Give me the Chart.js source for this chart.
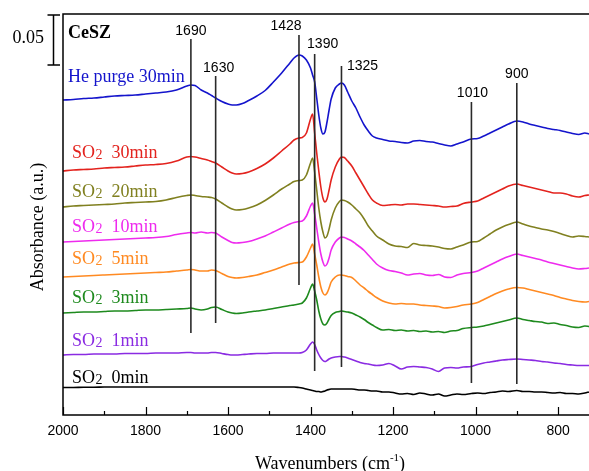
<!DOCTYPE html>
<html>
<head>
<meta charset="utf-8">
<script src="https://cdn.jsdelivr.net/npm/chart.js@4.4.1/dist/chart.umd.min.js"></script>
<style>
  html, body { margin: 0; padding: 0; background: #fff; }
  #wrap { width: 589px; height: 471px; }
</style>
</head>
<body>
<div id="wrap"><canvas id="c"></canvas></div>
<script>
// Wavenumber grid (cm-1), shared by all spectra
const wavenumbers = [2000,1975,1950,1925,1900,1875,1850,1825,1800,1775,
  1750,1725,1700,1690,1680,1665,1650,1640,1630,1615,
  1600,1590,1580,1565,1550,1530,1510,1490,1470,1450,
  1440,1428,1420,1410,1400,1395,1390,1385,1380,1375,
  1370,1365,1360,1355,1350,1340,1330,1325,1318,1310,
  1300,1290,1280,1270,1260,1250,1240,1225,1210,1195,
  1180,1165,1150,1135,1120,1105,1090,1075,1060,1045,
  1030,1010,995,980,965,950,935,920,900,885,
  870,855,840,825,810,795,780,765,750,735,725];

// Stacked absorbance, in units of 0.001 a.u.
const hePurge30 = [315,315.5,316.5,317,318,319,319.5,320,321,322,
  323,325,329,330,329.5,325,322,319.5,317,313.5,
  311,310,310,311.5,314.5,319,324.5,333,342,352,
  357,360,359,355,347,340,333,317,300,287,
  281,283,293,305,316,327,331,332,330,323,
  314,307,298,290,284,279,277,275.5,274,273.5,
  272.5,272,274,274.5,273.5,273,271.5,270,269,271,
  273,276,276.5,279,282,285,288,291,294,293,
  291,289.5,288,286.5,285.5,284.5,283,281.5,280.5,282,281];
const so2_30 = [244,245,245.5,246,247,247.5,248,249,250,250.5,
  251.5,254,258,258.5,258,256.5,255,253.5,252,248,
  244,242,241,241.5,243,246.5,251,257,264,271,
  275,277,277.5,282,296,301,282,262,244,228,
  217,213,216,225,235,248,256,258,257.5,254,
  249,242,235,228,221,215,212,209.5,210,210.5,
  210,211,211,210.5,210,209.5,209,208,208.5,209,
  211.5,213,214,217,220,223,226,229,231,229.5,
  228,226.5,225,223.5,222,222,221,219,218,219.5,220];
const so2_20 = [208,209,209.5,210,210.5,211,212,212.5,213,213.5,
  215,217.5,219.5,220,219.5,218.5,218,217.5,216,212,
  208,206,205,205.5,207,210,214.5,220,226,231,
  233.5,234.5,235,240,252,257,243,225,207,193,
  183,177,179,186,195,207,213.5,215,214.5,213,
  210,206,202,196,189,184,179,175,171,169,
  168.5,167.5,171.5,170,169.5,169,168,166.5,166,168,
  170,173,173.5,177,181,185,188,190.5,193,191,
  189,187.5,186,185,183.5,181.5,179.5,178,179,178.5,178];
const so2_10 = [173,173.5,174,174.5,175,175.5,176,176.5,177,177.5,
  178.5,180.5,182,182.5,182,183,182,182.5,182,178,
  174.5,172.5,172,172.5,173.5,176,179,183,187,191,
  192.5,193.5,194,199,209,212,201,187,173,161,
  153,149,151,157,165,173,177,178,177.5,176,
  174,171,168,164.5,160,155.5,151,147,144.5,143.5,
  142,140,141,141.5,140,139.5,140.5,138,137.5,140,
  141.5,142.5,144,147,150,153,156,158.5,161,159.5,
  158,156.5,155,153,151.5,150,148.5,147,146,146.5,147];
const so2_5 = [138,138.5,139,139.5,140,140.5,141,141.5,142,142.5,
  143,144,145,145.5,145,144,144,145,144.5,141.5,
  138.5,137.5,137,137.5,138.5,140,142.5,145,148,151,
  152,152.5,153,158,167,171,161,150,138,128,
  122,120,122,127,133,138,140,140,139.5,138.5,
  137.5,134,130,127,123.5,120.5,117.5,114,112,111,
  111.5,111,111,110,109.5,109,108.5,107,107.5,108.5,
  110,111,112.5,115.5,118.5,121.5,124,126,127.5,127,
  125.5,124,122.5,121,119.5,117.5,116,114.5,113.5,113,113.5];
const so2_3 = [102,102.5,103,103,103.5,104,104,104.5,105,105,
  105.5,106,106.5,107,106,105,106,107.5,108,105.5,
  103,102,101.5,102,103,104,105,106.5,108,109.5,
  110,111,112,117,127,131,124,115,104,96,
  91,90,92,96,99.5,102.5,103.5,104,103.5,103,
  102,100,98,95.5,92.5,90,87.5,85,85.5,84.5,
  85,84,84.5,83.5,84,83,83.5,82.5,84,84.5,
  86.5,87.5,88,89,90.5,92,93.5,95,97,95.5,
  94.5,93.5,93,91.5,92,90.5,89.5,88,87.5,89,88.5];
const so2_1 = [60,60.5,60.5,61,61,61,61.5,61.5,61.5,62,
  62,62,62.5,62.5,62,62,62,62.5,62.5,61.5,
  60.5,60,60,60.5,61,61.5,61.5,62,62,62,
  62,62,62.5,65,71,73,70.5,65,60.5,57,
  54.5,53.5,54.5,56,57,58,58.5,58.5,58,57,
  55.5,54,52.5,51.5,51,50,49.5,50,51.5,49,
  46,48,48.5,48,47.5,46,43.5,47,47.5,47,
  48,48.5,50.5,52,53,54,55,55.5,56,55.5,
  55,54.5,53.5,53,52,51.5,50.5,50,49.5,49.5,49.5];
const so2_0 = [27.5,27.5,27.8,27.8,28,28,28,28,28,28,
  28,28,28,28,28,28,28,28,28,28,
  28,28,28,28,28,28,28,28,28,28,
  28,27.5,27,26,25,24.5,24,23.5,23.5,23,
  23.5,24,25,25.5,26,26,26,26,26,26,
  26,25.5,25,25,24.5,24,24,23,23,22,
  21,21.5,20.5,22,21,20,21,19,20,21,
  20.5,21.5,22,21.5,22.5,23,24,23.5,24.5,23.5,
  23.5,23,23,22.5,22,22.5,21.5,21.5,21,22,23];

// Series names (SO2 is split so the 2 can be drawn smaller)
const seriesNames = ['He purge 30min', '30min', '20min', '10min', '5min', '3min', '1min', '0min'];
const seriesValues = [hePurge30, so2_30, so2_20, so2_10, so2_5, so2_3, so2_1, so2_0];
const seriesColors = ['#1414cc', '#e3231e', '#808020', '#ee2bee', '#ff8a22', '#1e8a1e', '#8a2be2', '#000000'];

// Band assignments (cm-1) and the extent of each marker line
const bandPositions = [1690, 1630, 1428, 1390, 1325, 1010, 900];
const bandTop = [376, 339, 380, 361, 349, 313, 332];
const bandBottom = [82, 92, 130, 44, 48, 32, 31];

const tickValues = [2000, 1800, 1600, 1400, 1200, 1000, 800];

// Label placement (pixel offsets) kept apart from the data
const bandLabelOffset = [[0, -8], [3, -8], [-13, -9], [8, -10], [21, 0], [1, -9], [0, -9]];
const seriesLabelAnchor = [339, 263, 224, 189, 157, 118, 75, 38];

const SERIF = '"Liberation Serif", "Times New Roman", serif';
const SANS = '"Liberation Sans", Arial, sans-serif';

const annotate = {
  id: 'annotate',
  afterDatasetsDraw(chart) {
    const { ctx, chartArea: a, scales: { x, y } } = chart;
    ctx.save();

    // frame: top, left, bottom
    ctx.strokeStyle = '#000';
    ctx.lineWidth = 1.5;
    ctx.beginPath();
    ctx.moveTo(a.right, a.top);
    ctx.lineTo(a.left, a.top);
    ctx.lineTo(a.left, a.bottom);
    ctx.lineTo(a.right, a.bottom);
    ctx.stroke();

    // inward tick marks, major every 200 and minor halfway
    ctx.lineWidth = 1.2;
    ctx.beginPath();
    tickValues.forEach(v => {
      const px = Math.round(x.getPixelForValue(v)) + 0.5;
      ctx.moveTo(px, a.bottom); ctx.lineTo(px, a.bottom - 8);
      const m = v - 100;
      if (m >= x.min) {
        const pm = Math.round(x.getPixelForValue(m)) + 0.5;
        ctx.moveTo(pm, a.bottom); ctx.lineTo(pm, a.bottom - 4);
      }
    });
    ctx.stroke();

    // band labels
    ctx.fillStyle = '#000';
    ctx.font = '14px ' + SANS;
    ctx.textAlign = 'center';
    ctx.textBaseline = 'middle';
    bandPositions.forEach((w, i) => {
      const px = x.getPixelForValue(w) + bandLabelOffset[i][0];
      const py = y.getPixelForValue(bandTop[i]) + bandLabelOffset[i][1];
      ctx.fillText(String(w), px, py);
    });

    // series labels
    ctx.textAlign = 'left';
    ctx.textBaseline = 'alphabetic';
    seriesNames.forEach((name, i) => {
      const cy = y.getPixelForValue(seriesLabelAnchor[i]);
      const base = cy + 6;
      ctx.fillStyle = seriesColors[i];
      if (i === 0) {
        ctx.font = '18px ' + SERIF;
        ctx.fillText(name, a.left + 5, base);
      } else {
        let px = a.left + 9;
        ctx.font = '18px ' + SERIF;
        ctx.fillText('SO', px, base);
        px += ctx.measureText('SO').width;
        ctx.font = '14px ' + SERIF;
        ctx.fillText('2', px + 0.5, base + 0.5);
        px += ctx.measureText('2').width + 0.5;
        ctx.font = '18px ' + SERIF;
        ctx.fillText('  ' + name, px, base);
      }
    });

    // sample name
    ctx.fillStyle = '#000';
    ctx.font = 'bold 18px ' + SERIF;
    ctx.fillText('CeSZ', a.left + 5, 38);

    // 0.05 a.u. scale bar
    const yTop = y.getPixelForValue(400), yBot = y.getPixelForValue(350);
    ctx.lineWidth = 1.5;
    ctx.beginPath();
    ctx.moveTo(53.5, yTop); ctx.lineTo(53.5, yBot);
    ctx.moveTo(47.5, yTop); ctx.lineTo(60, yTop);
    ctx.moveTo(47.5, yBot); ctx.lineTo(60, yBot);
    ctx.stroke();
    ctx.font = '18px ' + SERIF;
    ctx.textAlign = 'right';
    ctx.textBaseline = 'middle';
    ctx.fillText('0.05', 44, (yTop + yBot) / 2 - 2);

    // y axis title
    ctx.save();
    ctx.translate(38, 227);
    ctx.rotate(-Math.PI / 2);
    ctx.textAlign = 'center';
    ctx.fillText('Absorbance (a.u.)', 0, 0);
    ctx.restore();

    // x axis title with superscript
    ctx.textAlign = 'left';
    ctx.textBaseline = 'alphabetic';
    const t1 = 'Wavenumbers (cm', t2 = '-1', t3 = ')';
    ctx.font = '18px ' + SERIF;
    const w1 = ctx.measureText(t1).width, w3 = ctx.measureText(t3).width;
    ctx.font = '11px ' + SERIF;
    const w2 = ctx.measureText(t2).width;
    let tx = 330 - (w1 + w2 + w3) / 2;
    const tb = 469;
    ctx.font = '18px ' + SERIF;
    ctx.fillText(t1, tx, tb); tx += w1;
    ctx.font = '11px ' + SERIF;
    ctx.fillText(t2, tx, tb - 8); tx += w2;
    ctx.font = '18px ' + SERIF;
    ctx.fillText(t3, tx, tb);

    ctx.restore();
  }
};

const spectra = seriesValues.map((vals, i) => ({
  label: seriesNames[i],
  data: wavenumbers.map((w, k) => ({ x: w, y: vals[k] })),
  borderColor: seriesColors[i],
  borderWidth: 1.6,
  pointRadius: 0,
  cubicInterpolationMode: 'monotone',
  fill: false,
  order: 1
}));

const bandLines = bandPositions.map((w, i) => ({
  label: 'band ' + w,
  data: [{ x: w, y: bandBottom[i] }, { x: w, y: bandTop[i] }],
  borderColor: '#2a2a2a',
  borderWidth: 1.6,
  pointRadius: 0,
  fill: false,
  order: 0
}));

new Chart(document.getElementById('c'), {
  type: 'line',
  data: { datasets: [...bandLines, ...spectra] },
  options: {
    responsive: true,
    maintainAspectRatio: false,
    animation: false,
    layout: { padding: { left: 63, top: 14, right: 0, bottom: 0 } },
    plugins: { legend: { display: false }, tooltip: { enabled: false } },
    scales: {
      x: {
        type: 'linear',
        reverse: true,
        min: 725,
        max: 2000,
        afterBuildTicks: s => { s.ticks = tickValues.map(v => ({ value: v })); },
        afterFit: s => { s.height = 56; },
        grid: { display: false, drawTicks: false },
        border: { display: false },
        ticks: {
          color: '#000',
          font: { family: 'Liberation Sans', size: 14 },
          padding: 8,
          maxRotation: 0,
          autoSkip: false,
          callback: v => String(v)
        }
      },
      y: { display: false, min: 0, max: 401 }
    }
  },
  plugins: [annotate]
});
</script>
</body>
</html>
